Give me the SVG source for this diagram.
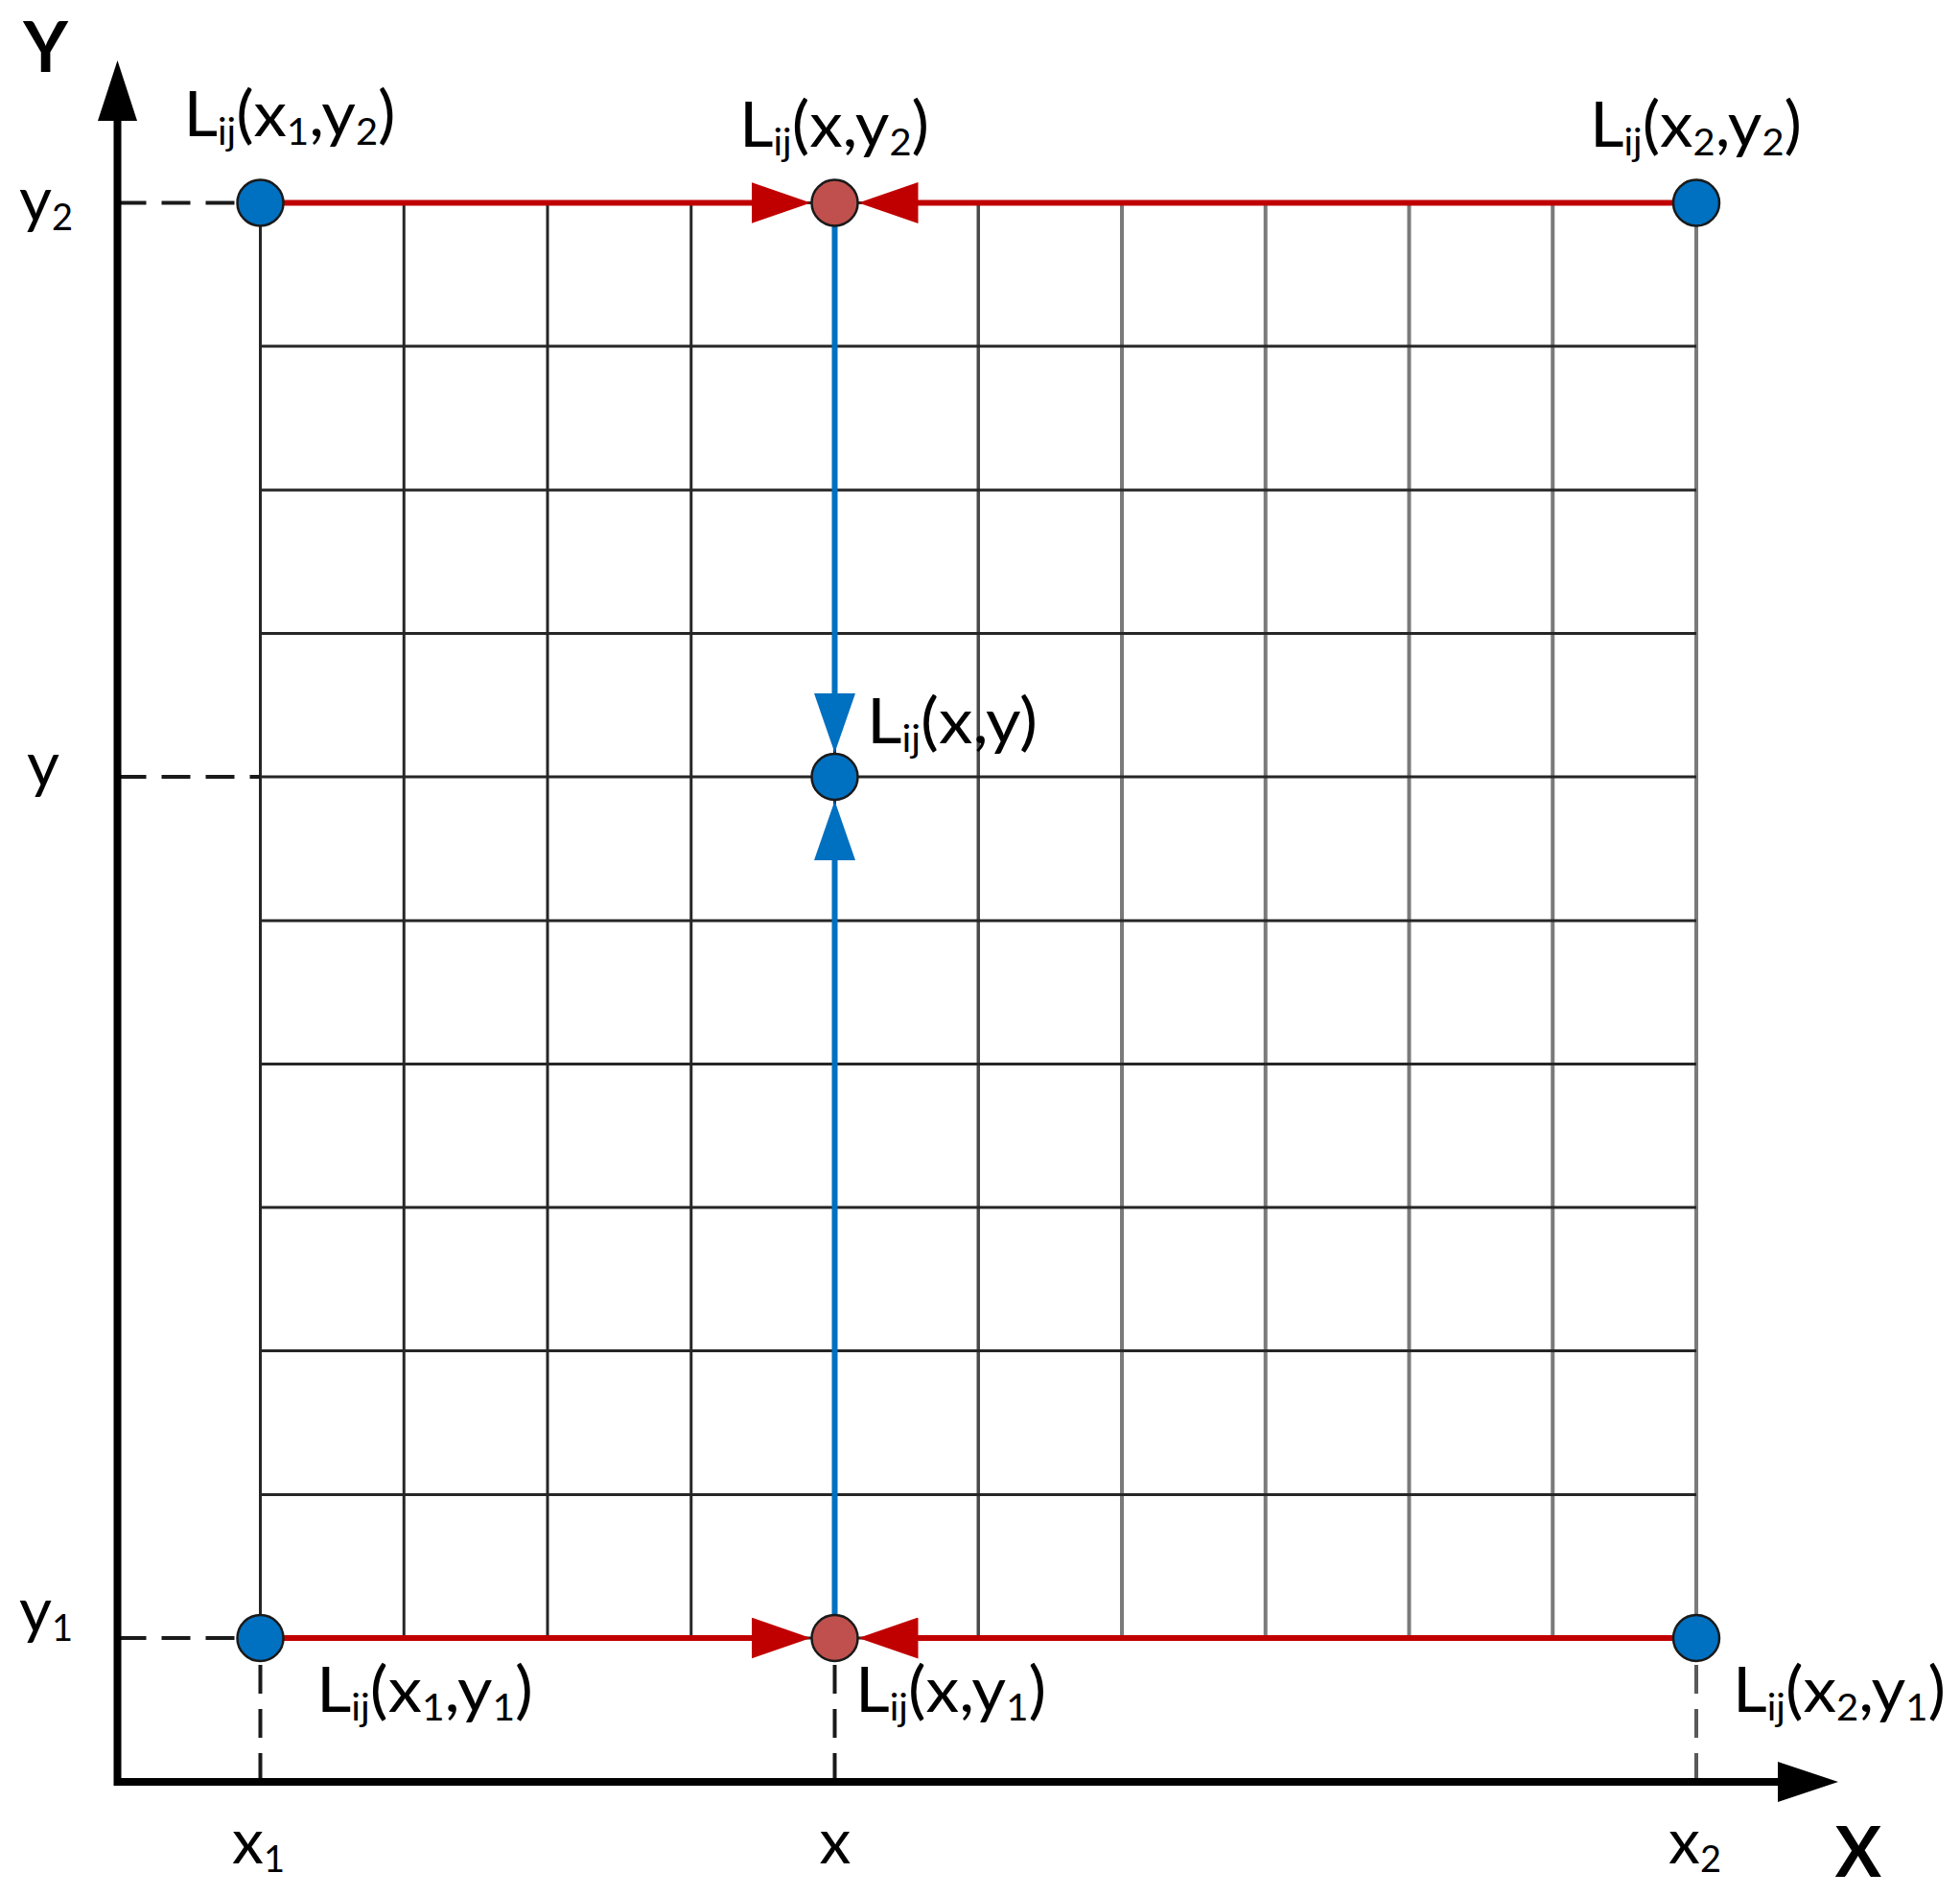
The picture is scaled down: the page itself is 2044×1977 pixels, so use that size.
<svg xmlns="http://www.w3.org/2000/svg" width="2044" height="1977" viewBox="0 0 2044 1977">
<style>
  .t { font-family: Lato, "Liberation Sans", sans-serif; font-size: 66px; fill: #000; }
  .s { font-size: 38px; }
  .ax { font-family: Lato, "Liberation Sans", sans-serif; font-size: 72px; font-weight: bold; fill: #000; }
  .grid line { stroke: #262626; stroke-width: 3; }
  .grid line.g2 { stroke: #7a7a7a; stroke-width: 4; }
  .grid line.g1 { stroke: #4a4a4a; stroke-width: 3.5; }
  .guide { stroke: #1a1a1a; stroke-width: 4; stroke-dasharray: 30 16; fill: none; }
  .red { stroke: #C00000; stroke-width: 6; fill: none; }
  .blue { stroke: #0070C0; stroke-width: 6; fill: none; }
  .nb { fill: #0070C0; stroke: #1a1a1a; stroke-width: 2.5; }
  .nr { fill: #C0504D; stroke: #1a1a1a; stroke-width: 2.5; }
</style>
<defs>
  <marker id="arRed" viewBox="0 0 62 43" refX="1" refY="21.5" markerWidth="62" markerHeight="43" markerUnits="userSpaceOnUse" orient="auto">
    <path d="M0,0 L62,21.5 L0,43 Z" fill="#C00000"/>
  </marker>
  <marker id="arBlue" viewBox="0 0 62 43" refX="1" refY="21.5" markerWidth="62" markerHeight="43" markerUnits="userSpaceOnUse" orient="auto">
    <path d="M0,0 L62,21.5 L0,43 Z" fill="#0070C0"/>
  </marker>
  <marker id="arAxis" viewBox="0 0 62 42" refX="1" refY="21" markerWidth="62" markerHeight="42" markerUnits="userSpaceOnUse" orient="auto">
    <path d="M0,0 L62,21 L0,42 Z" fill="#000"/>
  </marker>
</defs>
<rect width="2044" height="1977" fill="#fff"/>

<g id="grid" class="grid">
  <line x1="271.5" y1="211.5" x2="271.5" y2="1708"/>
  <line x1="421.25" y1="211.5" x2="421.25" y2="1708"/>
  <line x1="571" y1="211.5" x2="571" y2="1708"/>
  <line x1="720.75" y1="211.5" x2="720.75" y2="1708"/>
  <line x1="870.5" y1="211.5" x2="870.5" y2="1708"/>
  <line class="g1" x1="1020.25" y1="211.5" x2="1020.25" y2="1708"/>
  <line class="g2" x1="1170" y1="211.5" x2="1170" y2="1708"/>
  <line class="g2" x1="1319.75" y1="211.5" x2="1319.75" y2="1708"/>
  <line class="g2" x1="1469.5" y1="211.5" x2="1469.5" y2="1708"/>
  <line class="g2" x1="1619.25" y1="211.5" x2="1619.25" y2="1708"/>
  <line class="g2" x1="1769" y1="211.5" x2="1769" y2="1708"/>
  <line x1="271.5" y1="211.5" x2="1769" y2="211.5"/>
  <line x1="271.5" y1="361" x2="1769" y2="361"/>
  <line x1="271.5" y1="511" x2="1769" y2="511"/>
  <line x1="271.5" y1="660.5" x2="1769" y2="660.5"/>
  <line x1="271.5" y1="810" x2="1769" y2="810"/>
  <line x1="271.5" y1="960" x2="1769" y2="960"/>
  <line x1="271.5" y1="1109.5" x2="1769" y2="1109.5"/>
  <line x1="271.5" y1="1259" x2="1769" y2="1259"/>
  <line x1="271.5" y1="1408.5" x2="1769" y2="1408.5"/>
  <line x1="271.5" y1="1558.5" x2="1769" y2="1558.5"/>
  <line x1="271.5" y1="1708" x2="1769" y2="1708"/>
</g>

<g id="guides">
  <line class="guide" x1="122.5" y1="211.5" x2="271.5" y2="211.5"/>
  <line class="guide" x1="122.5" y1="810" x2="271.5" y2="810"/>
  <line class="guide" x1="122.5" y1="1708" x2="271.5" y2="1708"/>
  <line class="guide" x1="271.5" y1="1858" x2="271.5" y2="1708"/>
  <line class="guide" x1="870.5" y1="1858" x2="870.5" y2="1708"/>
  <line class="guide" x1="1769" y1="1858" x2="1769" y2="1708" style="stroke:#5a5a5a"/>
</g>

<g id="axes">
  <path d="M122.5,126 V1858 H1855" fill="none" stroke="#000" stroke-width="8" stroke-linejoin="miter" stroke-linecap="butt"/>
  <path d="M102,126 L122.5,63 L143,126 Z" fill="#000"/>
  <path d="M1854,1837 L1917,1858 L1854,1879 Z" fill="#000"/>
  <text class="ax" x="47.5" y="75" text-anchor="middle">Y</text>
  <text class="ax" x="1938" y="1957" text-anchor="middle">X</text>
  <text class="t" x="20" y="231">y<tspan class="s" dy="9">2</tspan></text>
  <text class="t" x="28" y="820">y</text>
  <text class="t" x="20" y="1702">y<tspan class="s" dy="9">1</tspan></text>
  <text class="t" x="242" y="1943">x<tspan class="s" dy="9">1</tspan></text>
  <text class="t" x="871" y="1943" text-anchor="middle">x</text>
  <text class="t" x="1740" y="1943">x<tspan class="s" dy="9">2</tspan></text>
</g>

<g id="connectors">
  <line class="red" x1="295.5" y1="211.5" x2="784.5" y2="211.5" marker-end="url(#arRed)"/>
  <line class="red" x1="1745" y1="211.5" x2="956.5" y2="211.5" marker-end="url(#arRed)"/>
  <line class="red" x1="295.5" y1="1708" x2="784.5" y2="1708" marker-end="url(#arRed)"/>
  <line class="red" x1="1745" y1="1708" x2="956.5" y2="1708" marker-end="url(#arRed)"/>
  <line class="blue" x1="870.5" y1="235.5" x2="870.5" y2="724" marker-end="url(#arBlue)"/>
  <line class="blue" x1="870.5" y1="1684" x2="870.5" y2="896" marker-end="url(#arBlue)"/>
</g>

<g id="node-x1y2">
  <circle class="nb" cx="271.5" cy="211.5" r="24"/>
  <text class="t" x="191.5" y="142" textLength="221" lengthAdjust="spacingAndGlyphs">L<tspan class="s" dy="9">ij</tspan><tspan dy="-9">(x</tspan><tspan class="s" dy="9">1</tspan><tspan dy="-9">,y</tspan><tspan class="s" dy="9">2</tspan><tspan dy="-9">)</tspan></text>
</g>
<g id="node-xy2">
  <circle class="nr" cx="870.5" cy="211.5" r="24"/>
  <text class="t" x="771" y="153" textLength="198" lengthAdjust="spacingAndGlyphs">L<tspan class="s" dy="9">ij</tspan><tspan dy="-9">(x,y</tspan><tspan class="s" dy="9">2</tspan><tspan dy="-9">)</tspan></text>
</g>
<g id="node-x2y2">
  <circle class="nb" cx="1769" cy="211.5" r="24"/>
  <text class="t" x="1658" y="153" textLength="221" lengthAdjust="spacingAndGlyphs">L<tspan class="s" dy="9">ij</tspan><tspan dy="-9">(x</tspan><tspan class="s" dy="9">2</tspan><tspan dy="-9">,y</tspan><tspan class="s" dy="9">2</tspan><tspan dy="-9">)</tspan></text>
</g>
<g id="node-xy">
  <circle class="nb" cx="870.5" cy="810" r="24"/>
  <text class="t" x="904" y="775" textLength="178" lengthAdjust="spacingAndGlyphs">L<tspan class="s" dy="9">ij</tspan><tspan dy="-9">(x,y)</tspan></text>
</g>
<g id="node-x1y1">
  <circle class="nb" cx="271.5" cy="1708" r="24"/>
  <text class="t" x="330" y="1785" textLength="226" lengthAdjust="spacingAndGlyphs">L<tspan class="s" dy="9">ij</tspan><tspan dy="-9">(x</tspan><tspan class="s" dy="9">1</tspan><tspan dy="-9">,y</tspan><tspan class="s" dy="9">1</tspan><tspan dy="-9">)</tspan></text>
</g>
<g id="node-xy1">
  <circle class="nr" cx="870.5" cy="1708" r="24"/>
  <text class="t" x="892" y="1785" textLength="199" lengthAdjust="spacingAndGlyphs">L<tspan class="s" dy="9">ij</tspan><tspan dy="-9">(x,y</tspan><tspan class="s" dy="9">1</tspan><tspan dy="-9">)</tspan></text>
</g>
<g id="node-x2y1">
  <circle class="nb" cx="1769" cy="1708" r="24"/>
  <text class="t" x="1807" y="1785" textLength="222" lengthAdjust="spacingAndGlyphs">L<tspan class="s" dy="9">ij</tspan><tspan dy="-9">(x</tspan><tspan class="s" dy="9">2</tspan><tspan dy="-9">,y</tspan><tspan class="s" dy="9">1</tspan><tspan dy="-9">)</tspan></text>
</g>
</svg>
